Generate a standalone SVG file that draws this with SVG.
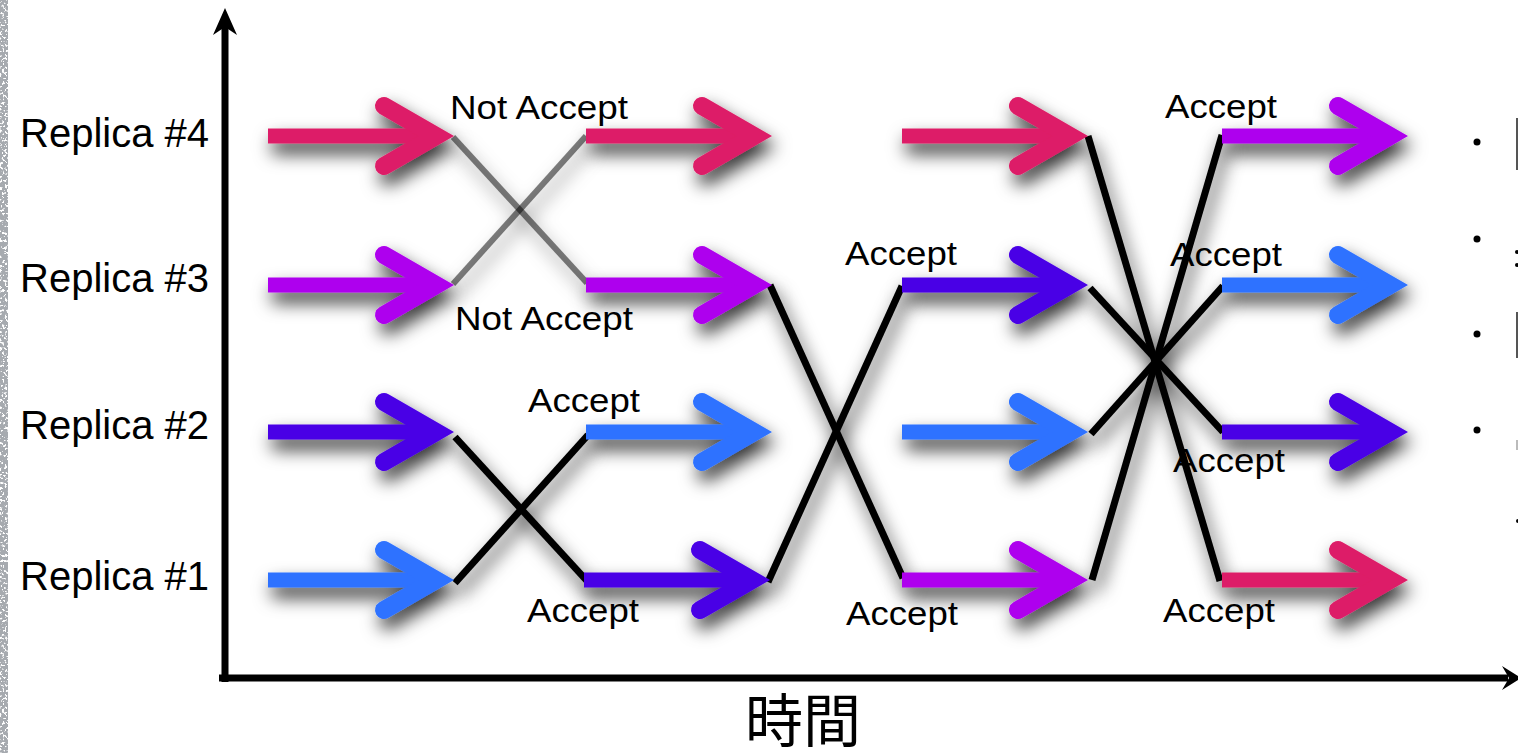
<svg xmlns="http://www.w3.org/2000/svg" xmlns:xlink="http://www.w3.org/1999/xlink" width="1518" height="753" viewBox="0 0 1518 753">
  <defs>
    <style>
      .lbl { font-family: "Liberation Sans", Arial, sans-serif; font-size: 34px; fill: #000; }
      .replica { font-family: "Liberation Sans", Arial, sans-serif; font-size: 40px; fill: #000; }
      .time { font-family: "Liberation Sans", "Noto Sans CJK JP", sans-serif; font-size: 58px; fill: #000; }
      .shaft { fill: none; stroke: currentColor; stroke-width: 15; stroke-linecap: butt; }
      .head { fill: none; stroke: currentColor; stroke-width: 18; stroke-linecap: round; stroke-linejoin: miter; stroke-miterlimit: 6; }
      .link { fill: none; stroke: #000; stroke-width: 7; stroke-linecap: butt; }
      .link-dim { fill: none; stroke: #000; stroke-opacity: 0.5; stroke-width: 6; stroke-linecap: butt; }
      .axis { stroke: #000; stroke-width: 7; fill: none; }
      .pink { color: #DD1F67; }
      .purple { color: #AE00EE; }
      .indigo { color: #4A00E6; }
      .blue { color: #2F72FF; }
    </style>
    <filter id="shadow" x="-25%" y="-50%" width="150%" height="220%">
      <feDropShadow dx="4" dy="10" stdDeviation="9" flood-color="#000" flood-opacity="0.8"/>
    </filter>
    <filter id="grain" x="0" y="0" width="100%" height="100%">
      <feTurbulence type="fractalNoise" baseFrequency="0.4" numOctaves="2" seed="7"/>
      <feColorMatrix type="matrix" values="0 0 0 0 0.38  0 0 0 0 0.4  0 0 0 0 0.43  12 0 0 0 -4.3"/>
    </filter>
    <!-- thick arrow: shaft from the origin, chevron head with tip at x=186 -->
    <g id="arrow">
      <path class="shaft" d="M0 0 H168"/>
      <path class="head" d="M116 -30 L168 0 L116 30"/>
    </g>
  </defs>

  <rect width="1518" height="753" fill="#fff"/>
  <!-- textured margin strip -->
  <rect x="0" y="0" width="8" height="753" filter="url(#grain)"/>

  <!-- axes -->
  <g id="axes">
    <line class="axis" x1="225" y1="26" x2="225" y2="682"/>
    <polygon points="225,8 237,35 225,27 213,35" fill="#000"/>
    <line class="axis" x1="219" y1="678" x2="1508" y2="678"/>
    <polygon points="1521,678 1502,666 1509,678 1502,690" fill="#000"/>
    <text class="time" x="803" y="742" text-anchor="middle">時間</text>
  </g>

  <!-- row labels -->
  <g id="replica-labels">
    <text class="replica" x="20" y="147">Replica #4</text>
    <text class="replica" x="20" y="292">Replica #3</text>
    <text class="replica" x="20" y="439">Replica #2</text>
    <text class="replica" x="20" y="590">Replica #1</text>
  </g>

  <!-- exchange links between rounds -->
  <g id="connectors" filter="url(#shadow)">
    <line class="link-dim" x1="453" y1="137" x2="587" y2="283"/>
    <line class="link-dim" x1="453" y1="284" x2="586" y2="136"/>
    <line class="link" x1="455" y1="437" x2="588" y2="582"/>
    <line class="link" x1="455" y1="583" x2="588" y2="435"/>
    <line class="link" x1="770" y1="285" x2="903" y2="578"/>
    <line class="link" x1="768" y1="582" x2="902" y2="286"/>
    <line class="link" x1="1088" y1="136" x2="1220" y2="581"/>
    <line class="link" x1="1090" y1="288" x2="1223" y2="432"/>
    <line class="link" x1="1091" y1="434" x2="1223" y2="286"/>
    <line class="link" x1="1092" y1="580" x2="1222" y2="135"/>
  </g>

  <!-- round 1 -->
  <g id="r1-rep4" class="pink" filter="url(#shadow)"><use xlink:href="#arrow" x="268" y="136"/></g>
  <g id="r1-rep3" class="purple" filter="url(#shadow)"><use xlink:href="#arrow" x="268" y="285"/></g>
  <g id="r1-rep2" class="indigo" filter="url(#shadow)"><use xlink:href="#arrow" x="268" y="432"/></g>
  <g id="r1-rep1" class="blue" filter="url(#shadow)"><use xlink:href="#arrow" x="268" y="580"/></g>

  <!-- round 2 -->
  <g id="r2-rep4" class="pink" filter="url(#shadow)"><use xlink:href="#arrow" x="586" y="136"/></g>
  <g id="r2-rep3" class="purple" filter="url(#shadow)"><use xlink:href="#arrow" x="586" y="285"/></g>
  <g id="r2-rep2" class="blue" filter="url(#shadow)"><use xlink:href="#arrow" x="586" y="432"/></g>
  <g id="r2-rep1" class="indigo" filter="url(#shadow)"><use xlink:href="#arrow" x="584" y="580"/></g>

  <!-- round 3 -->
  <g id="r3-rep4" class="pink" filter="url(#shadow)"><use xlink:href="#arrow" x="902" y="136"/></g>
  <g id="r3-rep3" class="indigo" filter="url(#shadow)"><use xlink:href="#arrow" x="902" y="285"/></g>
  <g id="r3-rep2" class="blue" filter="url(#shadow)"><use xlink:href="#arrow" x="902" y="432"/></g>
  <g id="r3-rep1" class="purple" filter="url(#shadow)"><use xlink:href="#arrow" x="902" y="580"/></g>

  <!-- round 4 -->
  <g id="r4-rep4" class="purple" filter="url(#shadow)"><use xlink:href="#arrow" x="1222" y="136"/></g>
  <g id="r4-rep3" class="blue" filter="url(#shadow)"><use xlink:href="#arrow" x="1222" y="285"/></g>
  <g id="r4-rep2" class="indigo" filter="url(#shadow)"><use xlink:href="#arrow" x="1222" y="432"/></g>
  <g id="r4-rep1" class="pink" filter="url(#shadow)"><use xlink:href="#arrow" x="1222" y="580"/></g>

  <!-- exchange outcomes -->
  <g id="labels">
    <text class="lbl" x="450" y="119" textLength="178" lengthAdjust="spacingAndGlyphs">Not Accept</text>
    <text class="lbl" x="455" y="330" textLength="178" lengthAdjust="spacingAndGlyphs">Not Accept</text>
    <text class="lbl" x="528" y="412" textLength="112" lengthAdjust="spacingAndGlyphs">Accept</text>
    <text class="lbl" x="527" y="622" textLength="112" lengthAdjust="spacingAndGlyphs">Accept</text>
    <text class="lbl" x="845" y="265" textLength="112" lengthAdjust="spacingAndGlyphs">Accept</text>
    <text class="lbl" x="846" y="625" textLength="112" lengthAdjust="spacingAndGlyphs">Accept</text>
    <text class="lbl" x="1165" y="118" textLength="112" lengthAdjust="spacingAndGlyphs">Accept</text>
    <text class="lbl" x="1170" y="266" textLength="112" lengthAdjust="spacingAndGlyphs">Accept</text>
    <text class="lbl" x="1173" y="472" textLength="112" lengthAdjust="spacingAndGlyphs">Accept</text>
    <text class="lbl" x="1163" y="622" textLength="112" lengthAdjust="spacingAndGlyphs">Accept</text>
  </g>

  <!-- bullet column at the right edge -->
  <g id="bullets" fill="#000">
    <circle cx="1477" cy="142" r="3.5"/>
    <circle cx="1477" cy="239" r="3.5"/>
    <circle cx="1477" cy="334" r="3.5"/>
    <circle cx="1477" cy="430" r="3.5"/>
    <rect x="1516" y="118" width="2" height="52" fill="#555"/>
    <circle cx="1517" cy="252" r="2"/>
    <circle cx="1517" cy="265" r="2"/>
    <rect x="1516" y="312" width="2" height="46" fill="#555"/>
    <rect x="1516" y="440" width="2" height="10" fill="#bbb"/>
    <circle cx="1518" cy="521" r="2"/>
  </g>
</svg>
